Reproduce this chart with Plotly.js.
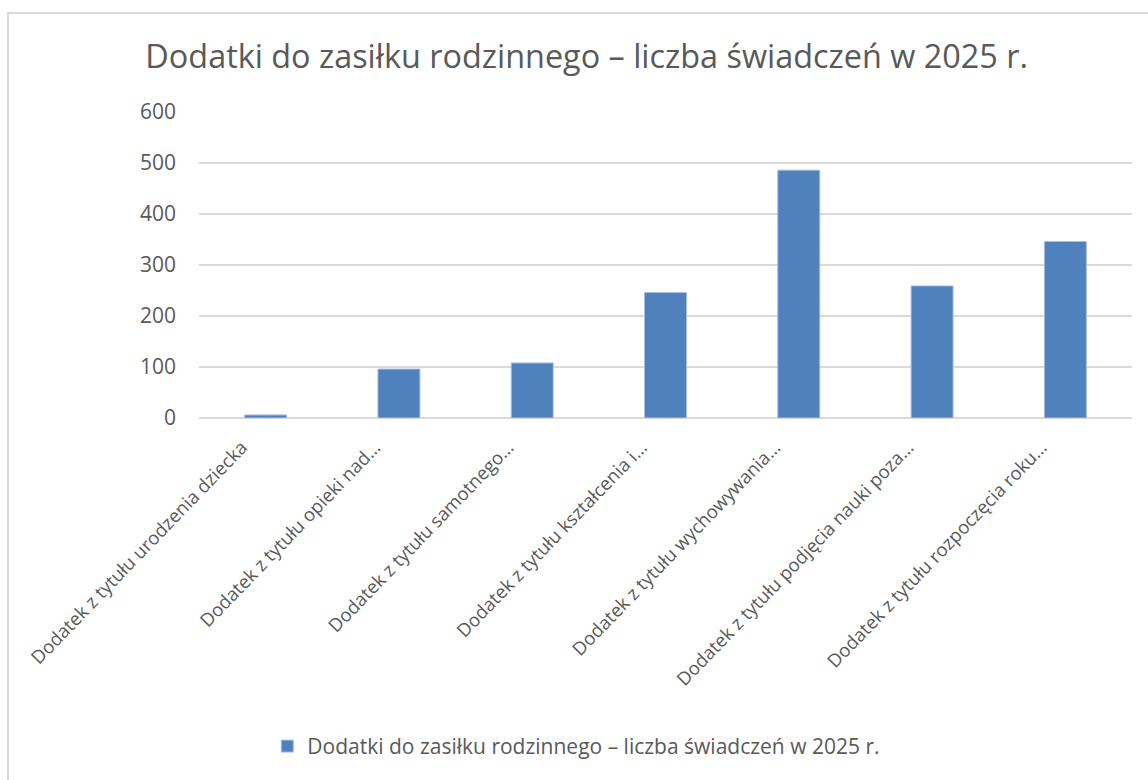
<!DOCTYPE html>
<html>
<head>
<meta charset="utf-8">
<script src="https://cdn.plot.ly/plotly-3.0.1.min.js"></script>
<style>
  body { margin: 0; background: #fff; overflow: hidden; }
  #graph { position: absolute; left: 0; top: 0; width: 1148px; height: 780px; }
  #frame { position: absolute; left: 7px; top: 12px; width: 1200px; height: 820px;
           border: 2px solid #d9d9d9; pointer-events: none; }
</style>
</head>
<body>
<div id="graph"></div>
<div id="frame"></div>
<script>
// dane wykresu
var categories = [
    "Dodatek z tytułu urodzenia dziecka",
    "Dodatek z tytułu opieki nad…",
    "Dodatek z tytułu samotnego…",
    "Dodatek z tytułu kształcenia i…",
    "Dodatek z tytułu wychowywania…",
    "Dodatek z tytułu podjęcia nauki poza…",
    "Dodatek z tytułu rozpoczęcia roku…"
];
var values = [6, 96, 108, 246, 486, 259, 346];
var seriesName = "Dodatki do zasiłku rodzinnego – liczba świadczeń w 2025 r.";
var yTicks = [0, 100, 200, 300, 400, 500, 600];

window.onload = function () {
    var font = "Open Sans, Noto Sans, sans-serif";
    var grey = "#595959";

    var trace = {
        x: categories,
        y: values,
        type: "bar",
        name: seriesName,
        marker: { color: "#4f81bd", line: { color: "#a7bfe0", width: 1 } },
        showlegend: true
    };

    var layout = {
        width: 1148,
        height: 780,
        paper_bgcolor: "#ffffff",
        plot_bgcolor: "#ffffff",
        margin: { l: 199, r: 16, t: 112, b: 362 },
        bargap: 0.685,
        font: { family: font, color: grey },
        title: {
            text: seriesName,
            font: { size: 32.4, color: grey, family: font },
            xref: "container",
            x: 0.511,
            xanchor: "center",
            yref: "container",
            y: 0.927,
            yanchor: "middle"
        },
        xaxis: {
            type: "category",
            tickangle: -46,
            tickfont: { size: 18.5, color: grey },
            showgrid: false,
            showline: false,
            ticks: "",
            ticklabelshift: -24,
            ticklabelstandoff: 14,
            automargin: false
        },
        yaxis: {
            range: [0, 600],
            tickvals: yTicks,
            tickfont: { size: 21, color: grey },
            showgrid: true,
            gridcolor: "#d9d9d9",
            gridwidth: 1.5,
            zeroline: true,
            zerolinecolor: "#d9d9d9",
            zerolinewidth: 1.5,
            showline: false,
            ticks: "",
            ticklabelstandoff: 22,
            automargin: false
        },
        legend: {
            orientation: "h",
            xref: "container",
            yref: "container",
            x: 0.502,
            xanchor: "center",
            y: 0.043,
            yanchor: "middle",
            font: { size: 21, color: grey },
            itemwidth: 30
        }
    };

    Plotly.newPlot("graph", [trace], layout, { displayModeBar: false, staticPlot: true });
};
</script>
</body>
</html>
